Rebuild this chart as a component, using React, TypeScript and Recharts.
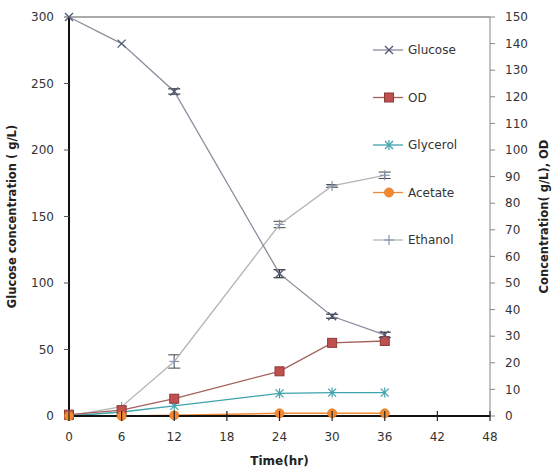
import React from "react";
import {
  LineChart,
  Line,
  XAxis,
  YAxis,
  ReferenceLine,
  ErrorBar,
} from "recharts";

const hours = [0, 6, 12, 24, 30, 36];
const glucose = [300, 280, 244, 107, 75, 61];
const glucoseErr = [0, 0, 2, 3, 1.5, 2];
const od = [0.5, 2.2, 6.5, 16.8, 27.5, 28.2];
const glycerol = [0, 1.5, 3.8, 8.5, 8.8, 8.8];
const acetate = [0, 0, 0.3, 1, 1, 1];
const ethanol = [0, 3.5, 20.5, 72, 86.5, 90.5];
const ethanolErr = [0, 0, 2.5, 1.2, 0.5, 1.2];

const xTicks = [0, 6, 12, 18, 24, 30, 36, 42, 48];
const leftTicks = [0, 50, 100, 150, 200, 250, 300];
const rightTicks = [0, 10, 20, 30, 40, 50, 60, 70, 80, 90, 100, 110, 120, 130, 140, 150];

const data = hours.map((h, i) => ({
  h,
  glucose: glucose[i],
  glucoseErr: glucoseErr[i],
  od: od[i],
  glycerol: glycerol[i],
  acetate: acetate[i],
  ethanol: ethanol[i],
  ethanolErr: ethanolErr[i],
}));

const FONT = "'DejaVu Sans', Verdana, sans-serif";
const TEXT = "#333";

const C = {
  glucoseLine: "#8c8c9e",
  glucoseMark: "#4d5878",
  odLine: "#a3605c",
  odFill: "#c0504d",
  odEdge: "#8c3a37",
  glycerol: "#3fa3ad",
  acetate: "#f08a35",
  ethanolLine: "#b5b5b5",
  ethanolMark: "#8595ad",
};

// marker shapes
function XMark({ cx, cy, color }: any) {
  const s = 4;
  return (
    <g stroke={color} strokeWidth={1.3}>
      <line x1={cx - s} y1={cy - s} x2={cx + s} y2={cy + s} />
      <line x1={cx - s} y1={cy + s} x2={cx + s} y2={cy - s} />
    </g>
  );
}
function StarMark({ cx, cy, color }: any) {
  const s = 4;
  return (
    <g stroke={color} strokeWidth={1.2}>
      <line x1={cx - s} y1={cy - s} x2={cx + s} y2={cy + s} />
      <line x1={cx - s} y1={cy + s} x2={cx + s} y2={cy - s} />
      <line x1={cx} y1={cy - s - 1} x2={cx} y2={cy + s + 1} />
    </g>
  );
}
function PlusMark({ cx, cy, color }: any) {
  const s = 5;
  return (
    <g stroke={color} strokeWidth={1.2}>
      <line x1={cx - s} y1={cy} x2={cx + s} y2={cy} />
      <line x1={cx} y1={cy - s} x2={cx} y2={cy + s} />
    </g>
  );
}
function SquareMark({ cx, cy }: any) {
  return <rect x={cx - 4.5} y={cy - 4.5} width={9} height={9} fill={C.odFill} stroke={C.odEdge} strokeWidth={1} />;
}
function CircleMark({ cx, cy }: any) {
  return <circle cx={cx} cy={cy} r={4.5} fill={C.acetate} stroke="#e07a25" strokeWidth={0.8} />;
}

const dotOf = (kind: string) => (p: any) => {
  const k = `${kind}-${p.index}`;
  if (p.cx == null || p.cy == null) return <g key={k} />;
  switch (kind) {
    case "glucose":
      return <XMark key={k} cx={p.cx} cy={p.cy} color={C.glucoseMark} />;
    case "od":
      return <SquareMark key={k} cx={p.cx} cy={p.cy} />;
    case "glycerol":
      return <StarMark key={k} cx={p.cx} cy={p.cy} color={C.glycerol} />;
    case "acetate":
      return <CircleMark key={k} cx={p.cx} cy={p.cy} />;
    default:
      return <PlusMark key={k} cx={p.cx} cy={p.cy} color={C.ethanolMark} />;
  }
};

function XTick(props: any) {
  const { x, y, payload } = props;
  const axisY = y - 16;
  return (
    <g>
      <line x1={x} x2={x} y1={axisY - 5} y2={axisY + 5} stroke="#222" strokeWidth={1.2} />
      <text x={x} y={y} dy="0.71em" textAnchor="middle" fontSize={12} fill={TEXT} fontFamily={FONT}>
        {payload.value}
      </text>
    </g>
  );
}

const legendItems = [
  { name: "Glucose", kind: "glucose", line: C.glucoseLine },
  { name: "OD", kind: "od", line: C.odLine },
  { name: "Glycerol", kind: "glycerol", line: C.glycerol },
  { name: "Acetate", kind: "acetate", line: C.acetate },
  { name: "Ethanol", kind: "ethanol", line: C.ethanolLine },
];

function LegendBox() {
  return (
    <svg width={120} height={240} style={{ position: "absolute", left: 365, top: 30 }}>
      {legendItems.map((it, i) => {
        const y = 20 + i * 47.5;
        const Dot = dotOf(it.kind);
        return (
          <g key={it.name}>
            <line x1={8} x2={38} y1={y} y2={y} stroke={it.line} strokeWidth={1.3} />
            {Dot({ cx: 24, cy: y, index: i })}
            <text x={43} y={y} dy="0.35em" fontSize={12} fill={TEXT} fontFamily={FONT}>
              {it.name}
            </text>
          </g>
        );
      })}
    </svg>
  );
}

export default function App() {
  return (
    <div style={{ position: "absolute", left: 0, top: 0, width: 553, height: 473, background: "#fff" }}>
      <LineChart width={553} height={473} data={data} margin={{ top: 17, right: 0, left: 0, bottom: 0 }}>
        <XAxis
          dataKey="h"
          type="number"
          domain={[0, 48]}
          ticks={xTicks}
          interval={0}
          axisLine={{ stroke: "#111", strokeWidth: 2 }}
          tickLine={false}
          tickSize={5}
          tickMargin={11}
          tick={<XTick />}
          height={57}
          label={{
            value: "Time(hr)",
            position: "insideBottom",
            offset: 8,
            fontSize: 12,
            fontWeight: "bold",
            fill: "#222",
            fontFamily: FONT,
          }}
        />
        <YAxis
          yAxisId="left"
          domain={[0, 300]}
          ticks={leftTicks}
          interval={0}
          width={69}
          axisLine={{ stroke: "#111", strokeWidth: 2 }}
          tickLine={{ stroke: "#555" }}
          tickSize={5}
          tickMargin={10}
          tick={{ fontSize: 12, fill: TEXT, fontFamily: FONT }}
          label={{
            value: "Glucose concentration ( g/L)",
            angle: -90,
            position: "insideLeft",
            offset: 12,
            style: { textAnchor: "middle" },
            fontSize: 11.5,
            fontWeight: "bold",
            fill: "#222",
            fontFamily: FONT,
          }}
        />
        <YAxis
          yAxisId="right"
          orientation="right"
          domain={[0, 150]}
          ticks={rightTicks}
          interval={0}
          width={63}
          axisLine={{ stroke: "#888" }}
          tickLine={{ stroke: "#888" }}
          tickSize={5}
          tickMargin={10}
          tick={{ fontSize: 12, fill: TEXT, fontFamily: FONT, textAnchor: "start" }}
          label={{
            value: "Concentration( g/L), OD",
            angle: -90,
            position: "insideRight",
            offset: 9,
            style: { textAnchor: "middle" },
            fontSize: 11.5,
            fontWeight: "bold",
            fill: "#222",
            fontFamily: FONT,
          }}
        />
        <ReferenceLine yAxisId="left" y={300} stroke="#555" strokeWidth={1} />

        <Line
          yAxisId="right"
          dataKey="ethanol"
          stroke={C.ethanolLine}
          strokeWidth={1.3}
          dot={dotOf("ethanol")}
          isAnimationActive={false}
        >
          <ErrorBar dataKey="ethanolErr" direction="y" width={6} stroke="#444" strokeWidth={1} />
        </Line>
        <Line
          yAxisId="right"
          dataKey="glycerol"
          stroke={C.glycerol}
          strokeWidth={1.3}
          dot={dotOf("glycerol")}
          isAnimationActive={false}
        />
        <Line
          yAxisId="right"
          dataKey="od"
          stroke={C.odLine}
          strokeWidth={1.3}
          dot={dotOf("od")}
          isAnimationActive={false}
        />
        <Line
          yAxisId="left"
          dataKey="glucose"
          stroke={C.glucoseLine}
          strokeWidth={1.3}
          dot={dotOf("glucose")}
          isAnimationActive={false}
        >
          <ErrorBar dataKey="glucoseErr" direction="y" width={6} stroke="#333" strokeWidth={1.2} />
        </Line>
        <Line
          yAxisId="right"
          dataKey="acetate"
          stroke={C.acetate}
          strokeWidth={1.5}
          dot={dotOf("acetate")}
          isAnimationActive={false}
        />
      </LineChart>
      <LegendBox />
    </div>
  );
}
